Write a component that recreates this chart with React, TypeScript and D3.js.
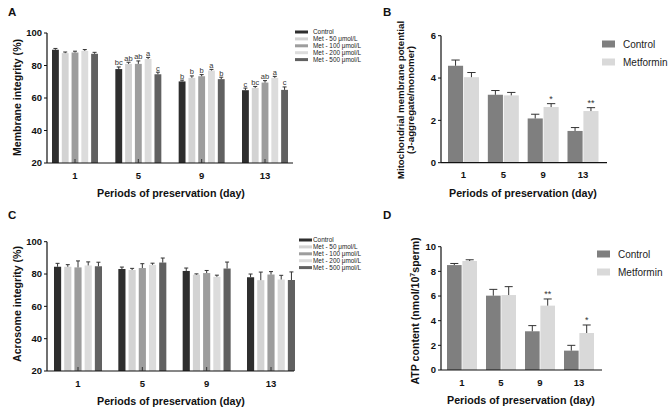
import React from "react";
import * as d3 from "d3";

const FONT = "Arial, 'Liberation Sans', Helvetica, sans-serif";

const days = ["1", "5", "9", "13"];

const doseGroups = ["Control", "Met - 50 μmol/L", "Met - 100 μmol/L", "Met - 200 μmol/L", "Met - 500 μmol/L"];
const doseColors = ["#2e2e2e", "#d3d3d3", "#9d9d9d", "#dcdcdc", "#616161"];

// Panel A: membrane integrity (%) rows = groups, cols = days
const membraneMean = [
  [89.7, 77.8, 70.2, 64.8],
  [87.6, 81.0, 72.4, 66.2],
  [88.0, 81.0, 73.4, 69.5],
  [89.0, 84.0, 76.9, 72.4],
  [87.2, 74.6, 71.6, 65.0],
];
const membraneErr = [
  [0.8, 1.3, 0.8, 1.3],
  [0.7, 1.0, 1.2, 0.9],
  [0.8, 1.8, 1.0, 1.2],
  [0.8, 1.0, 0.7, 0.9],
  [0.9, 1.3, 1.2, 1.8],
];
const membraneLetters = [
  ["", "bc", "b", "c"],
  ["", "ab", "b", "bc"],
  ["", "ab", "b", "ab"],
  ["", "a", "a", "a"],
  ["", "c", "b", "c"],
];

// Panel C: acrosome integrity (%)
const acrosomeMean = [
  [84.5, 83.1, 81.9, 78.0],
  [84.5, 82.5, 79.6, 76.2],
  [84.1, 83.7, 80.6, 79.7],
  [85.3, 85.7, 78.3, 76.6],
  [84.8, 87.1, 83.4, 76.3],
];
const acrosomeErr = [
  [2.1, 1.2, 1.8, 2.0],
  [1.3, 1.0, 0.5, 5.0],
  [4.0, 2.7, 1.6, 1.8],
  [2.2, 1.0, 1.0, 2.6],
  [2.5, 2.8, 4.0, 5.0],
];

const pairGroups = ["Control", "Metformin"];
const pairColors = ["#7f7f7f", "#d9d9d9"];

// Panel B: mitochondrial membrane potential
const mmpMean = [
  [4.58, 3.21, 2.09, 1.5],
  [4.04, 3.18, 2.63, 2.44],
];
const mmpErr = [
  [0.27, 0.2, 0.2, 0.16],
  [0.22, 0.14, 0.16, 0.16],
];
const mmpStars = [
  ["", "", "", ""],
  ["", "", "*", "**"],
];

// Panel D: ATP content
const atpMean = [
  [8.51, 6.03, 3.14, 1.57],
  [8.84, 6.08, 5.22, 3.0],
];
const atpErr = [
  [0.13, 0.51, 0.46, 0.43],
  [0.1, 0.68, 0.54, 0.65],
];
const atpStars = [
  ["", "", "", ""],
  ["", "", "**", "*"],
];

const yTicksPct = [20, 40, 60, 80, 100];
const yTicksMmp = [0, 2, 4, 6];
const yTicksAtp = [0, 2, 4, 6, 8, 10];

type PanelProps = {
  letter: string;
  letterX: number;
  letterY: number;
  groups: string[];
  colors: string[];
  means: number[][];
  errs: number[][];
  marks: string[][] | null;
  markSize: number;
  yDomain: [number, number];
  yRange: [number, number];
  yTicks: number[];
  centers: [number, number];
  axisX: [number, number];
  groupWidth: number;
  padInner: number;
  xTickY: number;
  xTitleX: number;
  xTitleY: number;
  yTitle: React.ReactNode[];
  yTitleX: number[];
  yTitleY: number;
  yTitleSize: number;
  legendX: number;
  legendY: number;
  legendStep: number;
  legendW: number;
  legendH: number;
  legendFont: number;
  legendTextX: number;
  innerTicks: boolean;
};

function Panel(p: PanelProps) {
  const y = d3.scaleLinear().domain(p.yDomain).range(p.yRange);
  const xc = d3.scalePoint<string>().domain(days).range(p.centers);
  const xg = d3
    .scaleBand<string>()
    .domain(p.groups)
    .range([-p.groupWidth / 2, p.groupWidth / 2])
    .paddingInner(p.padInner);
  const y0 = y(p.yDomain[0]);
  const ax0 = p.axisX[0];
  const bw = xg.bandwidth();
  const cap = Math.max(4, bw * 0.55);

  return (
    <g>
      <text x={p.letterX} y={p.letterY} fontSize={11.5} fontWeight="bold" fontFamily={FONT} fill="#111">
        {p.letter}
      </text>
      {p.groups.map((g, gi) =>
        days.map((d, di) => {
          const v = p.means[gi][di];
          const e = p.errs[gi][di];
          const x = (xc(d) as number) + (xg(g) as number);
          const yt = y(v);
          const ye = y(v + e);
          const mark = p.marks ? p.marks[gi][di] : "";
          return (
            <g key={g + d}>
              <rect x={x} y={yt} width={bw} height={y0 - yt} fill={p.colors[gi]} />
              <line x1={x + bw / 2} x2={x + bw / 2} y1={yt} y2={ye} stroke="#333" strokeWidth={1} />
              <line x1={x + bw / 2 - cap / 2} x2={x + bw / 2 + cap / 2} y1={ye} y2={ye} stroke="#333" strokeWidth={1} />
              {mark ? (
                <text
                  x={x + bw / 2}
                  y={ye - 1.5}
                  textAnchor="middle"
                  fontSize={p.markSize}
                  fontFamily={FONT}
                  fill="#333"
                >
                  {mark}
                </text>
              ) : null}
            </g>
          );
        })
      )}
      <line x1={ax0} x2={ax0} y1={y(p.yDomain[1])} y2={y0} stroke="#111" strokeWidth={1.2} />
      {p.yTicks.map((t) => (
        <g key={"yt" + t}>
          <line x1={ax0 - 3} x2={ax0} y1={y(t)} y2={y(t)} stroke="#111" strokeWidth={1} />
          <text
            x={ax0 - 5}
            y={y(t)}
            dy="0.35em"
            textAnchor="end"
            fontSize={9.5}
            fontWeight="bold"
            fontFamily={FONT}
            fill="#111"
          >
            {t}
          </text>
        </g>
      ))}
      <line x1={ax0} x2={p.axisX[1]} y1={y0} y2={y0} stroke="#111" strokeWidth={1.2} />
      {days.map((d) => (
        <g key={"xt" + d}>
          {p.innerTicks ? (
            <line x1={xc(d) as number} x2={xc(d) as number} y1={y0 - 4} y2={y0} stroke="#333" strokeWidth={1} />
          ) : null}
          <text
            x={xc(d) as number}
            y={p.xTickY}
            textAnchor="middle"
            fontSize={9.5}
            fontWeight="bold"
            fontFamily={FONT}
            fill="#111"
          >
            {d}
          </text>
        </g>
      ))}
      <text
        x={p.xTitleX}
        y={p.xTitleY}
        textAnchor="middle"
        fontSize={10.7}
        fontWeight="bold"
        fontFamily={FONT}
        fill="#111"
      >
        Periods of preservation (day)
      </text>
      {p.yTitle.map((line, i) => (
        <text
          key={"ytl" + i}
          transform={`translate(${p.yTitleX[i]},${p.yTitleY}) rotate(-90)`}
          textAnchor="middle"
          fontSize={p.yTitleSize}
          fontWeight="bold"
          fontFamily={FONT}
          fill="#111"
        >
          {line}
        </text>
      ))}
      {p.groups.map((g, gi) => (
        <g key={"lg" + g}>
          <rect
            x={p.legendX}
            y={p.legendY + gi * p.legendStep - p.legendH / 2}
            width={p.legendW}
            height={p.legendH}
            fill={p.colors[gi]}
          />
          <text
            x={p.legendTextX}
            y={p.legendY + gi * p.legendStep}
            dy="0.35em"
            fontSize={p.legendFont}
            fontFamily={FONT}
            fill="#222"
          >
            {g}
          </text>
        </g>
      ))}
    </g>
  );
}

export default function App() {
  return (
    <svg
      width={669}
      height={409}
      viewBox="0 0 669 409"
      style={{ position: "absolute", left: 0, top: 0, background: "#fff" }}
    >
      <rect x={0} y={0} width={669} height={409} fill="#fff" />
      <Panel
        letter="A"
        letterX={8}
        letterY={16}
        groups={doseGroups}
        colors={doseColors}
        means={membraneMean}
        errs={membraneErr}
        marks={membraneLetters}
        markSize={7.5}
        yDomain={[20, 100]}
        yRange={[163, 33]}
        yTicks={yTicksPct}
        centers={[75, 265]}
        axisX={[47, 293]}
        groupWidth={46}
        padInner={0.3}
        xTickY={178.5}
        xTitleX={171}
        xTitleY={197}
        yTitle={["Membrane integrity (%)"]}
        yTitleX={[21]}
        yTitleY={97.5}
        yTitleSize={10.6}
        legendX={295}
        legendY={32}
        legendStep={6.9}
        legendW={13}
        legendH={3}
        legendFont={6.4}
        legendTextX={313}
        innerTicks={true}
      />
      <Panel
        letter="C"
        letterX={8}
        letterY={219}
        groups={doseGroups}
        colors={doseColors}
        means={acrosomeMean}
        errs={acrosomeErr}
        marks={null}
        markSize={7.5}
        yDomain={[20, 100]}
        yRange={[371, 241.7]}
        yTicks={yTicksPct}
        centers={[78, 271]}
        axisX={[47, 294]}
        groupWidth={48}
        padInner={0.3}
        xTickY={386.5}
        xTitleX={171}
        xTitleY={405}
        yTitle={["Acrosome integrity (%)"]}
        yTitleX={[21]}
        yTitleY={304}
        yTitleSize={10.6}
        legendX={299}
        legendY={240}
        legendStep={6.9}
        legendW={13}
        legendH={3}
        legendFont={6.4}
        legendTextX={313}
        innerTicks={true}
      />
      <Panel
        letter="B"
        letterX={383}
        letterY={16}
        groups={pairGroups}
        colors={pairColors}
        means={mmpMean}
        errs={mmpErr}
        marks={mmpStars}
        markSize={9}
        yDomain={[0, 6]}
        yRange={[162.7, 35.7]}
        yTicks={yTicksMmp}
        centers={[463.5, 583]}
        axisX={[441, 607]}
        groupWidth={31}
        padInner={0.05}
        xTickY={177.5}
        xTitleX={523}
        xTitleY={197}
        yTitle={["Mitochondrial membrane potential", "(J-aggregate/monomer)"]}
        yTitleX={[403.5, 414]}
        yTitleY={100}
        yTitleSize={9.7}
        legendX={602}
        legendY={44}
        legendStep={18}
        legendW={13}
        legendH={7}
        legendFont={10}
        legendTextX={623}
        innerTicks={false}
      />
      <Panel
        letter="D"
        letterX={383}
        letterY={219}
        groups={pairGroups}
        colors={pairColors}
        means={atpMean}
        errs={atpErr}
        marks={atpStars}
        markSize={9}
        yDomain={[0, 10]}
        yRange={[370, 246.7]}
        yTicks={yTicksAtp}
        centers={[462, 579]}
        axisX={[441, 602]}
        groupWidth={30}
        padInner={0.05}
        xTickY={385.5}
        xTitleX={521}
        xTitleY={404}
        yTitle={[
          <>
            ATP content (nmol/10<tspan dy="-4" fontSize={7}>7</tspan>
            <tspan dy="4">sperm)</tspan>
          </>,
        ]}
        yTitleX={[419]}
        yTitleY={311}
        yTitleSize={10.6}
        legendX={597}
        legendY={254}
        legendStep={18}
        legendW={13}
        legendH={7}
        legendFont={10}
        legendTextX={618}
        innerTicks={false}
      />
    </svg>
  );
}
